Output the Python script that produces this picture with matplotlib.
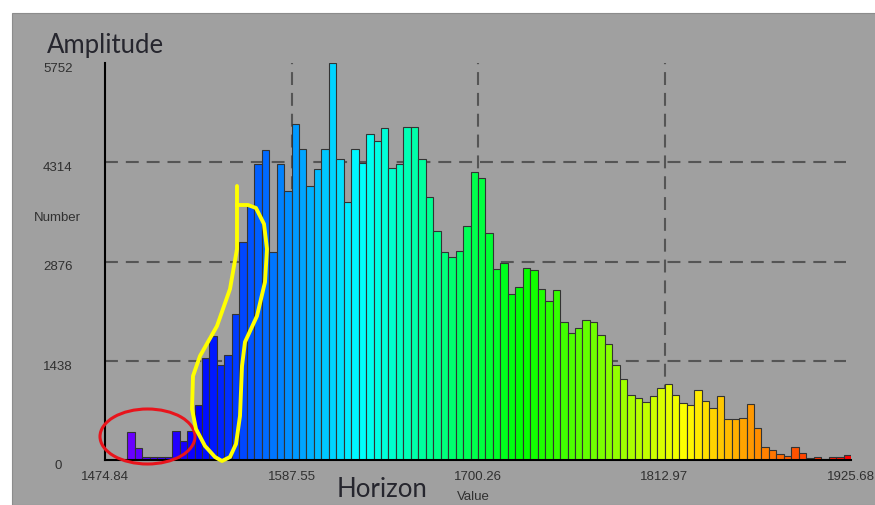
import numpy as np
import matplotlib
matplotlib.use('Agg')
import matplotlib.pyplot as plt
import matplotlib.transforms as mtransforms
from matplotlib.colors import hsv_to_rgb
from matplotlib.patches import Rectangle, Ellipse
from matplotlib.lines import Line2D

# Horizon amplitude histogram, 100 bins
counts = [0, 0, 0, 410, 167, 50, 50, 50, 50, 420,
          272, 420, 790, 1480, 1790, 1380, 1515, 2115, 3158, 3700,
          4295, 4492, 3013, 4285, 3898, 4875, 4512, 3970, 4212, 4502,
          5752, 4357, 3738, 4512, 4310, 4730, 4623, 4807, 4227, 4285,
          4826, 4826, 4365, 3816, 3318, 3013, 2941, 3028, 3390, 4175,
          4092, 3294, 2772, 2849, 2410, 2511, 2787, 2752, 2482, 2303,
          2462, 1998, 1844, 1917, 2023, 2004, 1805, 1685, 1375, 1167,
          935, 892, 844, 925, 1047, 1105, 940, 829, 795, 1008,
          853, 757, 925, 592, 600, 612, 817, 462, 191, 140,
          80, 55, 195, 108, 36, 50, 20, 50, 50, 68]
x_ticks = [1474.84, 1587.55, 1700.26, 1812.97, 1925.68]
x_tick_labels = ['1474.84', '1587.55', '1700.26', '1812.97', '1925.68']
y_ticks = [0, 1438, 2876, 4314, 5752]
y_tick_labels = ['0', '1438', '2876', '4314', '5752']

W, H = 875, 506
fig = plt.figure(figsize=(W / 100, H / 100), dpi=100)
fig.patch.set_facecolor('white')

def px(x, y):
    # pixel position (from top-left) -> figure fraction
    return x / W, 1 - y / H

# gray panel behind everything
fig.add_artist(Rectangle(px(12, 506), 1, (506 - 14) / H, transform=fig.transFigure,
                         facecolor='#a0a0a0', edgecolor='#8c8c8c', lw=0.8, zorder=0))

ax = fig.add_axes([105 / W, (H - 461) / H, 746 / W, 397 / H])
ax.patch.set_visible(False)

nb = len(counts)
edges = np.linspace(x_ticks[0], x_ticks[-1], nb + 1)
hues = 0.758 * (1 - np.arange(nb) / (nb - 1))
cols = hsv_to_rgb(np.stack([hues, np.ones(nb), np.ones(nb)], axis=1))
ax.bar(edges[:-1], counts, width=np.diff(edges), align='edge', color=cols,
       edgecolor='#333333', linewidth=0.8, zorder=3)

ax.set_xlim(x_ticks[0], x_ticks[-1])
ax.set_ylim(y_ticks[0], y_ticks[-1])

dash = (0, (6.2, 3.8))
for xv in x_ticks[1:-1]:
    ax.axvline(xv, color='#555555', lw=1.5, ls=dash, zorder=1)
for yv in y_ticks[1:-1]:
    ax.axhline(yv, xmax=741 / 746, color='#555555', lw=1.5, ls=dash, zorder=1)

for s in ['top', 'right']:
    ax.spines[s].set_visible(False)
for s in ['left', 'bottom']:
    ax.spines[s].set_color('black')
    ax.spines[s].set_linewidth(1.5)
    ax.spines[s].set_zorder(4)
ax.set_xticks([])
ax.set_yticks([])

tick_font = dict(family=['Liberation Sans', 'DejaVu Sans'], fontsize=9.5, color='#303030')

ytrans = mtransforms.offset_copy(
    mtransforms.blended_transform_factory(fig.transFigure, ax.transData),
    fig=fig, y=-5, units='dots')
for v, s in zip(y_ticks, y_tick_labels):
    ax.text(58 / W, v, s, transform=ytrans, ha='center', va='center', **tick_font)

xtrans = mtransforms.blended_transform_factory(ax.transData, fig.transFigure)
for v, s in zip(x_ticks, x_tick_labels):
    ax.text(v, 1 - 477.5 / H, s, transform=xtrans, ha='center', va='center', **tick_font)

fig.text(*px(57.5, 218), 'Number', ha='center', va='center', **tick_font)
fig.text(*px(473, 497), 'Value', ha='center', va='center', **tick_font)

title_font = dict(family=['Lato', 'DejaVu Sans'], fontsize=18.5, color='#26262e')
fig.text(*px(47, 45), 'Amplitude', ha='left', va='center', **title_font)
fig.text(*px(382.5, 490), 'Horizon', ha='center', va='center', **title_font)

# hand-drawn markup: red ring round the outliers, yellow loop over the ramp
fig.add_artist(Ellipse(px(147.5, 437.5), 95 / W, 55 / H, transform=fig.transFigure,
                       fill=False, edgecolor='#e8141c', lw=2.2, zorder=10))

loop = [(237, 187), (237, 215), (237, 250), (230, 290), (217, 327), (200, 357),
        (193, 377), (192, 410), (196, 430), (205, 447), (215, 458), (222, 462),
        (230, 458), (236, 445), (240, 417), (242, 367), (245, 343), (257, 317),
        (265, 283), (267, 250), (264, 225), (256, 209), (248, 206), (237, 206)]
lx, ly = zip(*[px(x, y) for x, y in loop])
fig.add_artist(Line2D(lx, ly, transform=fig.transFigure, color='#ffff00', lw=2.8,
                      solid_joinstyle='round', solid_capstyle='round', zorder=10))

fig.savefig('out.png', dpi=100)
